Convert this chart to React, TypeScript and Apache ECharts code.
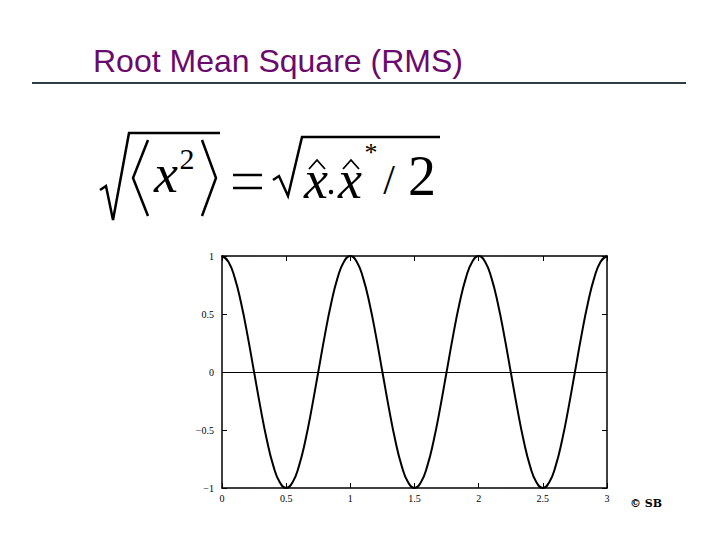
import React, { useEffect, useRef } from "react";
import * as echarts from "echarts";

const titleText = "Root Mean Square (RMS)";
const creditText = "© SB";
const xTickValues = [0, 0.5, 1, 1.5, 2, 2.5, 3];
const yTickValues = [-1, -0.5, 0, 0.5, 1];

const timeValues = [
  0, 0.05, 0.1, 0.15, 0.2, 0.25, 0.3, 0.35, 0.4, 0.45,
  0.5, 0.55, 0.6, 0.65, 0.7, 0.75, 0.8, 0.85, 0.9, 0.95,
  1, 1.05, 1.1, 1.15, 1.2, 1.25, 1.3, 1.35, 1.4, 1.45,
  1.5, 1.55, 1.6, 1.65, 1.7, 1.75, 1.8, 1.85, 1.9, 1.95,
  2, 2.05, 2.1, 2.15, 2.2, 2.25, 2.3, 2.35, 2.4, 2.45,
  2.5, 2.55, 2.6, 2.65, 2.7, 2.75, 2.8, 2.85, 2.9, 2.95,
  3,
];
const signalValues = [
  1, 0.951, 0.809, 0.588, 0.309, 0, -0.309, -0.588, -0.809, -0.951,
  -1, -0.951, -0.809, -0.588, -0.309, 0, 0.309, 0.588, 0.809, 0.951,
  1, 0.951, 0.809, 0.588, 0.309, 0, -0.309, -0.588, -0.809, -0.951,
  -1, -0.951, -0.809, -0.588, -0.309, 0, 0.309, 0.588, 0.809, 0.951,
  1, 0.951, 0.809, 0.588, 0.309, 0, -0.309, -0.588, -0.809, -0.951,
  -1, -0.951, -0.809, -0.588, -0.309, 0, 0.309, 0.588, 0.809, 0.951,
  1,
];

const fmt = (v: number) => String(v).replace("-", "\u2212");

function txt(text: string, x: number, y: number, font: string, align = "center", fill = "#000") {
  return {
    type: "text",
    x,
    y,
    silent: true,
    style: {
      text,
      font,
      fill,
      align,
      verticalAlign: "middle",
      textAlign: align,
      textVerticalAlign: "middle",
    },
  };
}

function pl(points: number[][], w = 2.5, color = "#000") {
  return {
    type: "polyline",
    silent: true,
    shape: { points },
    style: { stroke: color, lineWidth: w, fill: "none", lineJoin: "miter" },
  };
}

export default function App() {
  const ref = useRef<HTMLDivElement>(null);
  useEffect(() => {
    if (!ref.current) return;
    const chart = echarts.init(ref.current, null, { renderer: "svg" });
    const serif = '"Liberation Serif", "Times New Roman", serif';
    const data = timeValues.map((t, i) => [t, signalValues[i]]);
    const axisCommon = {
      type: "value",
      splitLine: { show: false },
      axisLine: { show: true, onZero: false, lineStyle: { color: "#000", width: 1.5 } },
      axisTick: { show: true, inside: true, length: 5, lineStyle: { color: "#000", width: 1 } },
    };
    chart.setOption({
      animation: false,
      backgroundColor: "#fff",
      grid: { left: 222, top: 256, right: 113, bottom: 52, containLabel: false },
      xAxis: [
        {
          ...axisCommon,
          position: "bottom",
          min: 0,
          max: 3,
          interval: 0.5,
          axisLabel: {
            show: true,
            color: "#000",
            fontSize: 10,
            fontFamily: serif,
            margin: 5,
            formatter: (v: number) => (xTickValues.includes(v) ? fmt(v) : ""),
          },
        },
        {
          ...axisCommon,
          position: "top",
          min: 0,
          max: 3,
          interval: 0.5,
          axisLabel: { show: false },
        },
      ],
      yAxis: [
        {
          ...axisCommon,
          position: "left",
          min: -1,
          max: 1,
          interval: 0.5,
          axisLabel: {
            show: true,
            color: "#000",
            fontSize: 10,
            fontFamily: serif,
            margin: 8,
            formatter: (v: number) => (yTickValues.includes(v) ? fmt(v) : ""),
          },
        },
        {
          ...axisCommon,
          position: "right",
          min: -1,
          max: 1,
          interval: 0.5,
          axisLabel: { show: false },
        },
      ],
      series: [
        {
          type: "line",
          xAxisIndex: 0,
          yAxisIndex: 0,
          data,
          smooth: true,
          showSymbol: false,
          symbol: "none",
          lineStyle: { color: "#000", width: 2 },
          markLine: {
            silent: true,
            symbol: "none",
            label: { show: false },
            lineStyle: { color: "#000", width: 1, type: "solid" },
            data: [{ yAxis: 0 }],
          },
        },
      ],
      graphic: [
        txt(titleText, 93, 61, '32px "Liberation Sans", Arial, sans-serif', "left", "#6a0a6e"),
        {
          type: "line",
          silent: true,
          shape: { x1: 32, y1: 83, x2: 686, y2: 83 },
          style: { stroke: "#2f3d47", lineWidth: 2 },
        },
        // first radical
        pl([[100, 190], [106, 186], [113, 220], [129, 133], [220, 133]], 2.5),
        // angle brackets
        pl([[148, 140], [133, 178], [148, 216]], 2.5),
        txt("x", 166, 174, "italic 54px " + serif),
        txt("2", 187, 158, "30px " + serif),
        pl([[202, 140], [216, 178], [202, 216]], 2.5),
        // equals
        pl([[233, 175], [262, 175]], 2.5),
        pl([[233, 188], [262, 188]], 2.5),
        // second radical
        pl([[273, 180], [279, 176], [288, 196], [302, 137], [440, 137]], 2.5),
        txt("x", 316, 180, "italic 54px " + serif),
        pl([[309, 169], [317, 160], [325, 169]], 1.8),
        { type: "circle", silent: true, shape: { cx: 331, cy: 192, r: 2.2 }, style: { fill: "#000" } },
        txt("x", 350, 180, "italic 54px " + serif),
        pl([[343, 169], [351, 160], [359, 169]], 1.8),
        txt("*", 371, 152, "26px " + serif),
        txt("/", 389, 180, "42px " + serif),
        txt("2", 422, 176, "56px " + serif),
        txt(creditText, 646, 503, 'bold 11px "DejaVu Serif", serif'),
      ],
    });
    return () => chart.dispose();
  }, []);
  return (
    <div
      ref={ref}
      style={{ position: "fixed", left: 0, top: 0, width: 720, height: 540, background: "#fff" }}
    />
  );
}
